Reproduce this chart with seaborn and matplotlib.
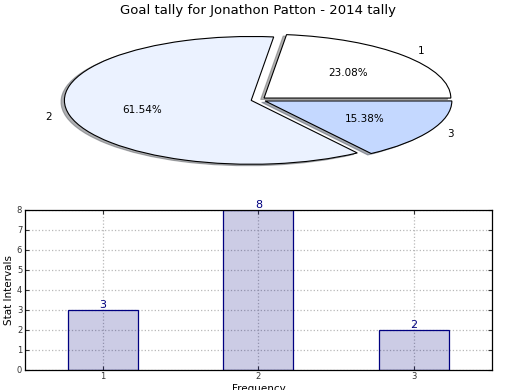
import numpy as np
import matplotlib
matplotlib.use("Agg")
import matplotlib.pyplot as plt
import pandas as pd
import seaborn as sns

# valeurs du graphique
categories = ["1", "2", "3"]
goals = [3, 8, 2]
pie_colors = ["#ffffff", "#ebf2ff", "#c4d8ff"]
title = "Goal tally for Jonathon Patton - 2014 tally"

sns.set_style("white")
plt.rcParams["font.family"] = ["DejaVu Sans"]
plt.rcParams["text.color"] = "black"
plt.rcParams["axes.labelcolor"] = "black"

fig, (ax1, ax2) = plt.subplots(2, 1, figsize=(5.2, 3.9), dpi=100)
fig.subplots_adjust(left=0.048, right=0.946, top=0.949, bottom=0.052, hspace=0.19)

# camembert
wedges, texts, autotexts = ax1.pie(goals, labels=categories, colors=pie_colors,
                                   explode=(0.04, 0.04, 0.04),
                                   shadow={"ox": -0.013, "oy": -0.016, "shade": 0.6},
                                   autopct="%.2f%%", startangle=0,
                                   wedgeprops={"edgecolor": "black", "linewidth": 0.8},
                                   textprops={"fontsize": 7.5, "color": "black"})
ax1.set_aspect("auto")
ax1.set_xlim(-1.25, 1.25)
ax1.set_ylim(-1.25, 1.25)
ax1.set_title(title, fontsize=9.5, pad=4, color="black")

# barres
df = pd.DataFrame({"freq": categories, "goals": goals})
sns.barplot(data=df, x="freq", y="goals", width=0.45, ax=ax2, zorder=2)
for p in ax2.patches:
    p.set_facecolor((0, 0, 0.5, 0.2))
    p.set_edgecolor("navy")
    p.set_linewidth(0.9)
for i, v in enumerate(goals):
    ax2.text(i, v, str(v), ha="center", va="bottom", color="navy", fontsize=8)

ax2.set_xlim(-0.5, 2.5)
ax2.set_ylim(0, 8)
ax2.set_yticks(range(0, 9))
ax2.grid(True, color="0.72", linestyle=":", linewidth=0.9, zorder=0)
ax2.set_axisbelow(True)
ax2.tick_params(labelsize=6, direction="in", length=3, colors="0.2",
                top=True, right=True, bottom=True, left=True, pad=2)
for s in ax2.spines.values():
    s.set_color("black")
    s.set_linewidth(0.9)
ax2.set_ylabel("Stat Intervals", fontsize=7.5, labelpad=2)
ax2.set_xlabel("Frequency", fontsize=7.5, labelpad=2)

plt.savefig("out.png", dpi=100)
